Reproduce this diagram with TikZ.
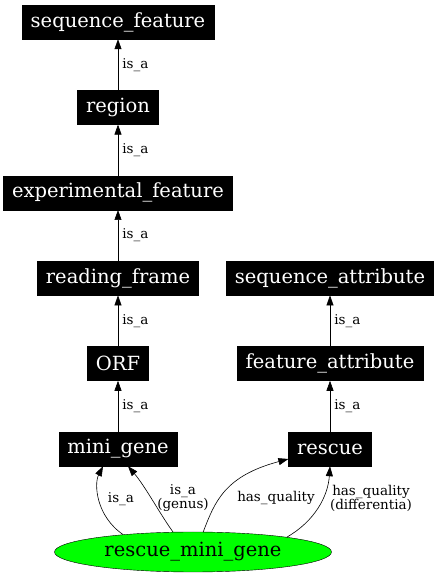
\documentclass[tikz,border=0pt]{standalone}
\usepackage{fontspec}
\setmainfont{DejaVu Serif}
\usetikzlibrary{shapes.geometric, arrows.meta, positioning}

\begin{document}
\begin{tikzpicture}[x=1pt, y=1pt,
  term/.style={draw, fill=black, text=white, minimum height=34pt, inner xsep=8.5pt, font=\fontsize{19.5}{21}\selectfont},
  leaf/.style={draw, ellipse, fill=green, minimum width=277pt, minimum height=40pt, inner sep=0pt, font=\fontsize{19.5}{21}\selectfont},
  rel/.style={-{Triangle[length=10pt, width=7pt]}, semithick},
  lbl/.style={font=\fontsize{13.5}{14}\selectfont, align=center, inner sep=1pt}
]
  \useasboundingbox (0,0) rectangle (438,576);

  % Instance term
  \node[leaf] (rmg) at (193,24) {rescue\_mini\_gene};

  % Left column
  \node[term] (mg) at (118,127) {mini\_gene};
  \node[term, above=51pt of mg] (orf) {ORF};
  \node[term, above=51pt of orf] (rf) {reading\_frame};
  \node[term, above=51pt of rf] (ef) {experimental\_feature};
  \node[term, above=51pt of ef] (reg) {region};
  \node[term, above=51pt of reg] (sf) {sequence\_feature};

  % Right column
  \node[term] (rs) at (330,127) {rescue};
  \node[term, above=51pt of rs] (fa) {feature\_attribute};
  \node[term, above=51pt of fa] (sa) {sequence\_attribute};

  % is_a chains
  \draw[rel] (mg) -- node[lbl, right=3pt] {is\_a} (orf);
  \draw[rel] (orf) -- node[lbl, right=3pt] {is\_a} (rf);
  \draw[rel] (rf) -- node[lbl, right=3pt] {is\_a} (ef);
  \draw[rel] (ef) -- node[lbl, right=3pt] {is\_a} (reg);
  \draw[rel] (reg) -- node[lbl, right=3pt] {is\_a} (sf);
  \draw[rel] (rs) -- node[lbl, right=3pt] {is\_a} (fa);
  \draw[rel] (fa) -- node[lbl, right=3pt] {is\_a} (sa);

  % Edges from the instance
  \draw[rel] (rmg.166) .. controls (96,60) and (94,92) .. ([xshift=-15pt]mg.south);
  \node[lbl] (l1) at (121,77) {is\_a};
  \draw[rel] (rmg.135) .. controls (160,62) and (145,90) .. ([xshift=10pt]mg.south);
  \node[lbl] (l2) at (183,78) {is\_a\\(genus)};
  \draw[rel] (rmg.63) .. controls (215,75) and (225,100) .. ([yshift=-10pt]rs.west);
  \node[lbl] (l3) at (276,78) {has\_quality};
  \draw[rel] (rmg.9) .. controls (315,55) and (328,80) .. (rs.south);
  \node[lbl] (l4) at (371,78) {has\_quality\\(differentia)};
\end{tikzpicture}
\end{document}
